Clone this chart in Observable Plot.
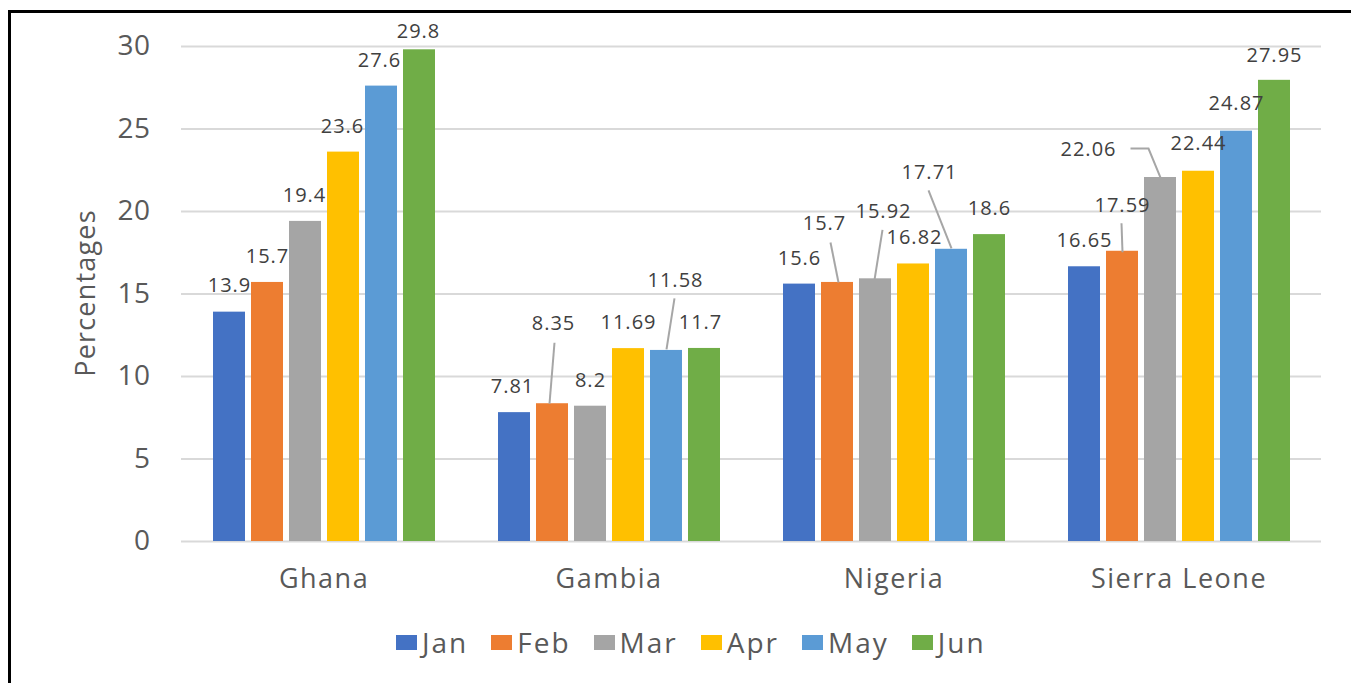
<!DOCTYPE html>
<html><head><meta charset="utf-8">
<script src="https://cdn.jsdelivr.net/npm/d3@7"></script>
<script src="https://cdn.jsdelivr.net/npm/@observablehq/plot@0.6"></script>
<style>
html,body{margin:0;padding:0;background:#fff;overflow:hidden;}
#wrap{position:relative;width:1351px;height:683px;font-family:"Open Sans",sans-serif;background:#fff;}
#chart{position:absolute;left:0;top:0;}
#frame{position:absolute;left:8px;top:10px;width:1400px;height:700px;border-left:3px solid #000;border-top:3px solid #000;}
#ylabel{position:absolute;left:84px;top:293px;transform:translate(-50%,-50%) rotate(-90deg);font-size:27px;letter-spacing:1.2px;color:#595959;white-space:nowrap;line-height:1;}
#legend{position:absolute;left:396px;top:626px;display:flex;align-items:center;font-size:28px;line-height:32px;color:#595959;letter-spacing:2px;}
.item{display:flex;align-items:center;margin-right:23px;}
.sw{width:21px;height:15px;margin-right:5px;}
svg [aria-label="y-axis tick label"] text{letter-spacing:0.5px;}
svg [aria-label="fx-axis tick label"] text{letter-spacing:1.5px;}
svg [aria-label="text"] text{letter-spacing:1px;}
</style></head>
<body><div id="wrap"><div id="chart"></div><div id="ylabel">Percentages</div><div id="legend"></div><div id="frame"></div></div>
<script>
const countries = ["Ghana", "Gambia", "Nigeria", "Sierra Leone"];
const months = ["Jan", "Feb", "Mar", "Apr", "May", "Jun"];
const jan = [13.9, 7.81, 15.6, 16.65];
const feb = [15.7, 8.35, 15.7, 17.59];
const mar = [19.4, 8.2, 15.92, 22.06];
const apr = [23.6, 11.69, 16.82, 22.44];
const may = [27.6, 11.58, 17.71, 24.87];
const jun = [29.8, 11.7, 18.6, 27.95];
const yTicks = [0, 5, 10, 15, 20, 25, 30];
const colors = ["#4472C4", "#ED7D31", "#A5A5A5", "#FFC000", "#5B9BD5", "#70AD47"];

const series = [jan, feb, mar, apr, may, jun];
const rows = [];
countries.forEach((c, ci) => months.forEach((m, mi) => rows.push({country: c, month: m, value: series[mi][ci]})));

// label placement tweaks (pixels, relative to the bar top centre) and leader lines
const DEFAULT_DY = -26;
const nudges = {
  "Ghana|Jan": {dy: -27},
  "Ghana|Mar": {dx: -1},
  "Ghana|Apr": {dx: -1},
  "Ghana|May": {dx: -2},
  "Ghana|Jun": {dx: -1, dy: -18},
  "Gambia|Jan": {dx: -2},
  "Gambia|Feb": {dx: 1, dy: -80, leader: [[2, -61], [-3, 0]]},
  "Gambia|May": {dx: 9, dy: -70, leader: [[8, -52], [0, -1]]},
  "Gambia|Jun": {dx: -4},
  "Nigeria|Feb": {dx: -13, dy: -59, leader: [[-7, -40], [1, 0]]},
  "Nigeria|Mar": {dx: 8, dy: -67, leader: [[7, -49], [-1, 1]]},
  "Nigeria|Apr": {dx: 1},
  "Nigeria|May": {dx: -22, dy: -77, leader: [[-23, -59], [0, -1]]},
  "Sierra Leone|Feb": {dy: -46, leader: [[-1, -28], [0, 1]]},
  "Sierra Leone|Mar": {dx: -72, dy: -28, leader: [[-30, -29], [-12, -29], [0, 0]]},
  "Sierra Leone|Apr": {dy: -28},
  "Sierra Leone|May": {dy: -28},
  "Sierra Leone|Jun": {dy: -25}
};
const keyOf = d => d.country + "|" + d.month;

function labelRender(index, scales, values, dimensions, context, next) {
  const X = Float64Array.from(values.x), Y = Float64Array.from(values.y);
  for (const i of index) {
    const n = nudges[keyOf(rows[i])] || {};
    X[i] += n.dx || 0;
    Y[i] += (n.dy ?? DEFAULT_DY);
  }
  const g = next(index, scales, {...values, x: X, y: Y}, dimensions, context);
  if (!g) return g;
  for (const i of index) {
    const n = nudges[keyOf(rows[i])];
    if (!n || !n.leader) continue;
    const p = document.createElementNS("http://www.w3.org/2000/svg", "path");
    p.setAttribute("d", "M" + n.leader.map(([dx, dy]) => `${values.x[i] + dx},${values.y[i] + dy}`).join("L"));
    p.setAttribute("fill", "none");
    p.setAttribute("stroke", "#a6a6a6");
    p.setAttribute("stroke-width", "2");
    g.appendChild(p);
  }
  return g;
}

const chart = Plot.plot({
  width: 1351,
  height: 610,
  marginLeft: 180,
  marginRight: 30,
  marginTop: 46,
  marginBottom: 69,
  style: {background: "transparent", color: "#595959", fontFamily: "'Open Sans', sans-serif", overflow: "visible"},
  fx: {domain: countries, padding: 0, axis: null, label: null},
  x: {domain: months, paddingInner: 0.167, paddingOuter: 0.79, axis: null},
  y: {domain: [0, 30], axis: null},
  color: {domain: months, range: colors},
  marks: [
    Plot.gridY(yTicks, {stroke: "#d9d9d9", strokeOpacity: 1, strokeWidth: 2}),
    Plot.axisY(yTicks, {tickSize: 0, tickPadding: 31, fontSize: 28, label: null}),
    Plot.axisFx({anchor: "bottom", tickSize: 0, tickPadding: 27, fontSize: 27, label: null}),
    Plot.barY(rows, {fx: "country", x: "month", y: "value", fill: "month"}),
    Plot.text(rows, {fx: "country", x: "month", y: "value", text: d => String(d.value),
      fill: "#404040", fontSize: 20, render: labelRender})
  ]
});
document.getElementById("chart").appendChild(chart);

const legend = document.getElementById("legend");
months.forEach((m, i) => {
  const it = document.createElement("div");
  it.className = "item";
  const sw = document.createElement("div");
  sw.className = "sw";
  sw.style.background = colors[i];
  const t = document.createElement("span");
  t.textContent = m;
  it.appendChild(sw); it.appendChild(t);
  legend.appendChild(it);
});
</script>
</body></html>
